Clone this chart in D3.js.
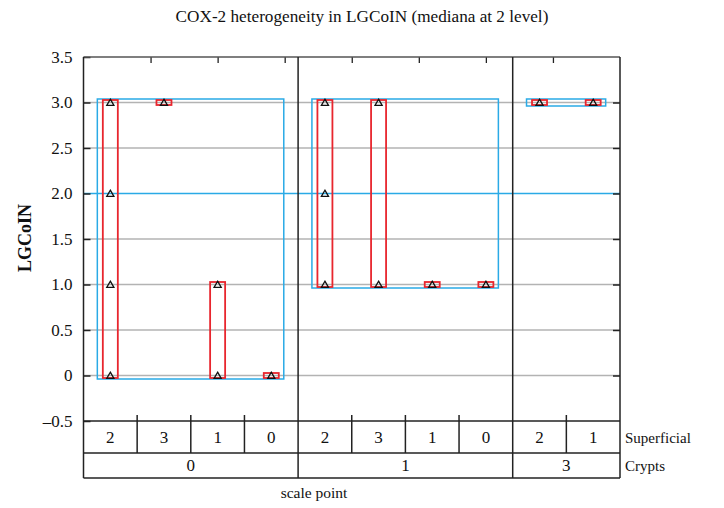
<!DOCTYPE html>
<meta charset="utf-8">
<head>
<style>
  body { margin: 0; background: white; }
  svg { display: block; }
  text { font-family: "Liberation Serif", "DejaVu Serif", serif; fill: #111; }
</style>
<script src="https://cdn.jsdelivr.net/npm/d3@7"></script>
</head>
<body>
<svg id="chart"></svg>
<script>

// crypts groups (outer level) and superficial sub-levels inside each group
const groups = ["0", "1", "3"]
const superficial = [["2", "3", "1", "0"], ["2", "3", "1", "0"], ["2", "1"]]
// LGCoIN values observed in each cell
const cellValues = [
  [[0, 1, 2, 3], [3], [0, 1], [0]],
  [[1, 2, 3], [1, 3], [1], [1]],
  [[3], [3]]
]
const yTicks = [3.5, 3.0, 2.5, 2.0, 1.5, 1.0, 0.5, 0, -0.5]
const yTickLabels = ["3.5", "3.0", "2.5", "2.0", "1.5", "1.0", "0.5", "0", "\u20130.5"]
const medianLevel = 2

const title = "COX-2 heterogeneity in LGCoIN (mediana at 2 level)"

let width = 724, height = 508
let plot = { left: 83.5, right: 620, top: 57, bottom: 421 }
let row1 = 453, row2 = 478

let svg = d3.select("#chart").attr("width", width).attr("height", height)

// flatten cells
let cells = []
groups.forEach((g, gi) => {
  superficial[gi].forEach((s, si) => {
    cells.push({ group: g, gi, sup: s, key: g + "-" + s, vals: cellValues[gi][si] })
  })
})

let x = d3.scaleBand()
  .domain(cells.map(d => d.key))
  .range([plot.left, plot.right])
  .padding(0)

let y = d3.scaleLinear()
  .domain([-0.5, 3.5])
  .range([plot.bottom, plot.top])

let cx = d => x(d.key) + x.bandwidth() / 2

// gridlines
svg.append("g").selectAll("line")
  .data(yTicks.filter(t => t != 3.5 && t != -0.5 && t != medianLevel))
  .enter().append("line")
  .attr("x1", plot.left).attr("x2", plot.right)
  .attr("y1", d => y(d)).attr("y2", d => y(d))
  .attr("stroke", "#b3b3b3").attr("stroke-width", 1.5)

const blue = "#2aaae6", red = "#e8262e"

// median line
svg.append("line")
  .attr("x1", plot.left).attr("x2", plot.right)
  .attr("y1", y(medianLevel)).attr("y2", y(medianLevel))
  .attr("stroke", blue).attr("stroke-width", 1.5)

// group range boxes
let groupBoxes = groups.map((g, gi) => {
  let gc = cells.filter(c => c.gi == gi)
  let all = gc.flatMap(c => c.vals)
  return { x0: cx(gc[0]) - 13, x1: cx(gc[gc.length - 1]) + 12.5, min: d3.min(all), max: d3.max(all) }
})
svg.append("g").selectAll("rect")
  .data(groupBoxes)
  .enter().append("rect")
  .attr("x", d => d.x0)
  .attr("width", d => d.x1 - d.x0)
  .attr("y", d => y(d.max) - 3.5)
  .attr("height", d => y(d.min) - y(d.max) + 7)
  .attr("fill", "none").attr("stroke", blue).attr("stroke-width", 1.5)

// cell range boxes
svg.append("g").selectAll("rect")
  .data(cells)
  .enter().append("rect")
  .attr("x", d => cx(d) - 7.5)
  .attr("width", 15)
  .attr("y", d => y(d3.max(d.vals)) - 2.5)
  .attr("height", d => y(d3.min(d.vals)) - y(d3.max(d.vals)) + 5)
  .attr("fill", "none").attr("stroke", red).attr("stroke-width", 1.8)

// triangle markers
let pts = cells.flatMap(c => c.vals.map(v => ({ c, v })))
svg.append("g").selectAll("path")
  .data(pts)
  .enter().append("path")
  .attr("d", d3.symbol(d3.symbolTriangle, 22))
  .attr("transform", d => `translate(${cx(d.c)},${y(d.v) + 0.8})`)
  .attr("fill", "none").attr("stroke", "#111").attr("stroke-width", 1.3)

// axes
let axisY = d3.axisLeft(y).tickValues(yTicks).tickSize(-7).tickPadding(11)
  .tickFormat((d, i) => yTickLabels[i])
let gy = svg.append("g").attr("transform", `translate(${plot.left},0)`).call(axisY)
gy.select(".domain").remove()
gy.selectAll("line").attr("stroke", "#222").attr("stroke-width", 1.5)
gy.selectAll("text").attr("font-size", 17).attr("fill", "#111")
  .style("font-family", '"Liberation Serif", serif')

let axisR = d3.axisRight(y).tickValues(yTicks.slice(1, -1)).tickSize(-7).tickFormat("")
let gr = svg.append("g").attr("transform", `translate(${plot.right},0)`).call(axisR)
gr.select(".domain").remove()
gr.selectAll("line").attr("stroke", "#222").attr("stroke-width", 1.5)

let topScale = d3.scaleLinear().domain([0, 8]).range([plot.left, plot.right])
let axisT = d3.axisTop(topScale).tickValues(d3.range(1, 8)).tickSize(-6).tickFormat("")
let gt = svg.append("g").attr("transform", `translate(0,${plot.top})`).call(axisT)
gt.select(".domain").remove()
gt.selectAll("line").attr("stroke", "#222").attr("stroke-width", 1.3)

// frame
let frame = svg.append("g").attr("stroke", "#222").attr("stroke-width", 1.5)
frame.append("line").attr("x1", plot.left).attr("x2", plot.right).attr("y1", plot.top).attr("y2", plot.top).attr("stroke", "#555")
;[plot.left, plot.right].forEach(xx => {
  frame.append("line").attr("x1", xx).attr("x2", xx).attr("y1", plot.top).attr("y2", row2)
})
;[plot.bottom, row1, row2].forEach(yy => {
  frame.append("line").attr("x1", plot.left).attr("x2", plot.right).attr("y1", yy).attr("y2", yy)
})
// group separators
groups.forEach((g, gi) => {
  if (gi == 0) return
  let first = cells.find(c => c.gi == gi)
  frame.append("line").attr("x1", x(first.key)).attr("x2", x(first.key)).attr("y1", plot.top).attr("y2", row2)
})
// cell separators inside groups
cells.forEach((c, i) => {
  if (i == 0 || cells[i - 1].gi != c.gi) return
  frame.append("line").attr("x1", x(c.key)).attr("x2", x(c.key)).attr("y1", plot.bottom - 6).attr("y2", row1)
})

// table labels
svg.append("g").selectAll("text")
  .data(cells)
  .enter().append("text")
  .attr("x", d => cx(d)).attr("y", 443)
  .attr("text-anchor", "middle").attr("font-size", 17)
  .text(d => d.sup)

svg.append("g").selectAll("text")
  .data(groups)
  .enter().append("text")
  .attr("x", (g, gi) => {
    let gc = cells.filter(c => c.gi == gi)
    return (x(gc[0].key) + x(gc[gc.length - 1].key) + x.bandwidth()) / 2
  })
  .attr("y", 471)
  .attr("text-anchor", "middle").attr("font-size", 17)
  .text(d => d)

svg.append("text").attr("x", 625).attr("y", 443).attr("font-size", 15).text("Superficial")
svg.append("text").attr("x", 625).attr("y", 471).attr("font-size", 15).text("Crypts")
svg.append("text").attr("x", 314).attr("y", 498).attr("text-anchor", "middle").attr("font-size", 15.5).text("scale point")

svg.append("text").attr("x", 362).attr("y", 22).attr("text-anchor", "middle").attr("font-size", 17.2).text(title)

svg.append("text")
  .attr("transform", "translate(31,238) rotate(-90)")
  .attr("text-anchor", "middle").attr("font-size", 18).attr("font-weight", "bold")
  .text("LGCoIN")

</script>
</body>
